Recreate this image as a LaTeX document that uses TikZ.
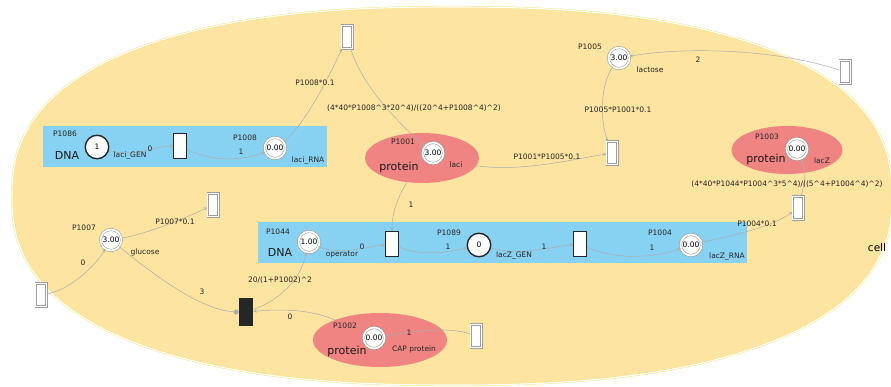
\documentclass[tikz,border=0pt]{standalone}
\usepackage{fontspec}
\setmainfont{DejaVu Sans}
\usetikzlibrary{arrows}
\usetikzlibrary{shapes.geometric}

\definecolor{cellfill}{RGB}{253,228,160}
\definecolor{cellline}{RGB}{244,230,140}
\definecolor{genebox}{RGB}{135,210,242}
\definecolor{protfill}{RGB}{240,132,130}
\definecolor{arcgray}{RGB}{172,172,172}

\tikzset{
  place/.style={circle, draw=gray!85, double=white, double distance=1.8pt, line width=0.5pt, fill=white, minimum size=21pt, inner sep=0pt, font=\fontsize{7.5}{7.5}\selectfont},
  geneplace/.style={circle, draw=black!85, line width=1.4pt, fill=white, minimum size=23.5pt, inner sep=0pt, font=\fontsize{7.5}{7.5}\selectfont},
  trans/.style={rectangle, draw=black!85, line width=1.3pt, fill=white, minimum width=12.5pt, minimum height=24.5pt, inner sep=0pt},
  blacktrans/.style={trans, fill=black!85, minimum width=13.5pt, minimum height=27.5pt},
  srctrans/.style={rectangle, draw=gray!75, double=white, double distance=1.4pt, line width=0.5pt, fill=white, minimum width=10.6pt, minimum height=23pt, inner sep=0pt},
  protein/.style={ellipse, fill=protfill, inner sep=0pt},
  arc/.style={draw=arcgray, line width=0.5pt, -stealth},
  lbl/.style={font=\fontsize{7.5}{8}\selectfont, inner sep=0pt, text=black!85},
  big/.style={font=\fontsize{11}{12}\selectfont, inner sep=0pt, text=black!90}
}

\begin{document}
\begin{tikzpicture}[x=1pt,y=-1pt]

    \useasboundingbox (0,0) rectangle (891,386);

    % cell
    \draw[cellline, line width=0.5pt, fill=cellfill, double=white, double distance=1.1pt]
      plot[domain=0.5:360.5, samples=145, variable=\t]
      ({452+440*sign(cos(\t))*abs(cos(\t))^0.833}, {196+189*sign(sin(\t))*abs(sin(\t))^0.833}) -- cycle;
    \node[font=\fontsize{10.5}{11}\selectfont, inner sep=0pt] (cell) at (877,248) {cell};

    \fill[genebox] (43,126) rectangle (327,167);
    \fill[genebox] (258,222) rectangle (747,263);

    \node[protein, minimum width=114pt, minimum height=50pt] (e1001) at (422,158) {};
    \node[protein, minimum width=111pt, minimum height=48pt] (e1003) at (787,150) {};
    \node[protein, minimum width=134pt, minimum height=54pt] (e1002) at (380,340) {};

    \node[geneplace] (p1086) at (97,147) {1};
    \node[trans] (t1) at (180,146) {};
    \node[place] (p1008) at (275,148) {0.00};
    \node[srctrans] (t1008) at (347,37) {};
    \node[place] (p1001) at (433,153) {3.00};
    \node[srctrans] (t1001) at (612,153) {};
    \node[place] (p1005) at (619,58) {3.00};
    \node[srctrans] (tlac) at (845,72) {};
    \node[place] (p1003) at (797,149) {0.00};
    \node[srctrans] (t1003) at (798,208) {};
    \node[place] (p1044) at (309,242) {1.00};
    \node[trans] (t2) at (392,244) {};
    \node[geneplace] (p1089) at (479,245) {0};
    \node[trans] (t3) at (580,244) {};
    \node[place] (p1004) at (691,245) {0.00};
    \node[place] (p1007) at (111,240) {3.00};
    \node[srctrans] (tglu) at (213,205) {};
    \node[srctrans] (tgluin) at (41,295) {};
    \node[blacktrans] (tcap) at (246,312) {};
    \node[place] (p1002) at (374,338) {0.00};
    \node[srctrans] (tcapin) at (476,336) {};

    \draw[arc] (p1086) .. controls (135,158) and (155,146) .. (t1);
    \draw[arc] (t1) .. controls (215,163) and (245,160) .. (p1008);
    \draw[arc] (p1008) .. controls (305,125) and (330,75) .. (t1008);
    \draw[arc] (t1008) .. controls (362,85) and (395,120) .. (p1001);
    \draw[arc] (e1001) .. controls (520,172) and (570,160) .. (t1001);
    \draw[arc] (p1005) .. controls (600,85) and (600,120) .. (t1001);
    \draw[arc] (tlac) .. controls (780,50) and (690,46) .. (p1005);
    \draw[arc] (t1003) .. controls (803,188) and (808,175) .. (p1003);
    \draw[arc] (p1004) .. controls (730,236) and (770,228) .. (t1003);
    \draw[arc] (e1001) .. controls (396,200) and (392,215) .. (t2);
    \draw[arc] (p1044) .. controls (340,256) and (365,247) .. (t2);
    \draw[arc] (t2) .. controls (420,256) and (445,253) .. (p1089);
    \draw[arc] (p1089) .. controls (520,256) and (550,247) .. (t3);
    \draw[arc] (t3) .. controls (620,262) and (660,256) .. (p1004);
    \draw[arc] (p1007) .. controls (150,233) and (185,218) .. (tglu);
    \draw[arc] (tgluin) .. controls (70,290) and (95,266) .. (p1007);
    \draw[arc, -*] (p1007) .. controls (160,280) and (205,312) .. (tcap);
    \draw[arc] (tcap) .. controls (280,300) and (300,280) .. (p1044);
    \draw[arc] (e1002) .. controls (310,309) and (280,309) .. (tcap);
    \draw[arc] (tcapin) .. controls (450,327) and (420,330) .. (p1002);

    % laci gene box
    \node[lbl] (n1086) at (65,134) {P1086};
    \node[big] (dna1) at (67,155) {DNA};
    \node[lbl] (g1086) at (130,156) {laci\_GEN};
    \node[lbl] (w1) at (150,149) {0};
    \node[lbl] (n1008) at (245,138) {P1008};
    \node[lbl] (w2) at (241,152) {1};
    \node[lbl] (g1008) at (308,161) {laci\_RNA};
    \node[lbl] (r1008) at (315,83) {P1008*0.1};
    \node[lbl] (r1001a) at (414,108) {(4*40*P1008\^{}3*20\^{}4)/((20\^{}4+P1008\^{}4)\^{}2)};

    % laci protein and lactose
    \node[lbl] (n1001) at (403,142) {P1001};
    \node[big] (pr1001) at (399,167) {protein};
    \node[lbl] (g1001) at (456,165) {laci};
    \node[lbl] (r1001b) at (547,157) {P1001*P1005*0.1};
    \node[lbl] (n1005) at (590,47) {P1005};
    \node[lbl] (g1005) at (650,70) {lactose};
    \node[lbl] (r1005) at (618,110) {P1005*P1001*0.1};
    \node[lbl] (w3) at (698,60) {2};

    % lacZ protein
    \node[lbl] (n1003) at (767,137) {P1003};
    \node[big] (pr1003) at (766,159) {protein};
    \node[lbl] (g1003) at (822,161) {lacZ};
    \node[lbl] (r1003) at (787,184) {(4*40*P1044*P1004\^{}3*5\^{}4)/((5\^{}4+P1004\^{}4)\^{}2)};
    \node[lbl] (r1004) at (757,224) {P1004*0.1};

    % lacZ gene box
    \node[lbl] (w4) at (411,205) {1};
    \node[lbl] (n1044) at (278,232) {P1044};
    \node[big] (dna2) at (280,252) {DNA};
    \node[lbl] (g1044) at (342,255) {operator};
    \node[lbl] (w5) at (362,247) {0};
    \node[lbl] (n1089) at (449,233) {P1089};
    \node[lbl] (w6) at (448,247) {1};
    \node[lbl] (g1089) at (514,256) {lacZ\_GEN};
    \node[lbl] (w7) at (544,247) {1};
    \node[lbl] (n1004) at (660,233) {P1004};
    \node[lbl] (w8) at (652,248) {1};
    \node[lbl] (g1004) at (727,257) {lacZ\_RNA};

    % glucose and CAP
    \node[lbl] (n1007) at (84,228) {P1007};
    \node[lbl] (g1007) at (145,252) {glucose};
    \node[lbl] (r1007) at (175,222) {P1007*0.1};
    \node[lbl] (w9) at (83,263) {0};
    \node[lbl] (w10) at (202,292) {3};
    \node[lbl] (rcap) at (280,280) {20/(1+P1002)\^{}2};
    \node[lbl] (w11) at (290,317) {0};
    \node[lbl] (n1002) at (345,326) {P1002};
    \node[big] (pr1002) at (347,351) {protein};
    \node[lbl] (g1002) at (414,349) {CAP protein};
    \node[lbl] (w12) at (409,333) {1};

\end{tikzpicture}
\end{document}
